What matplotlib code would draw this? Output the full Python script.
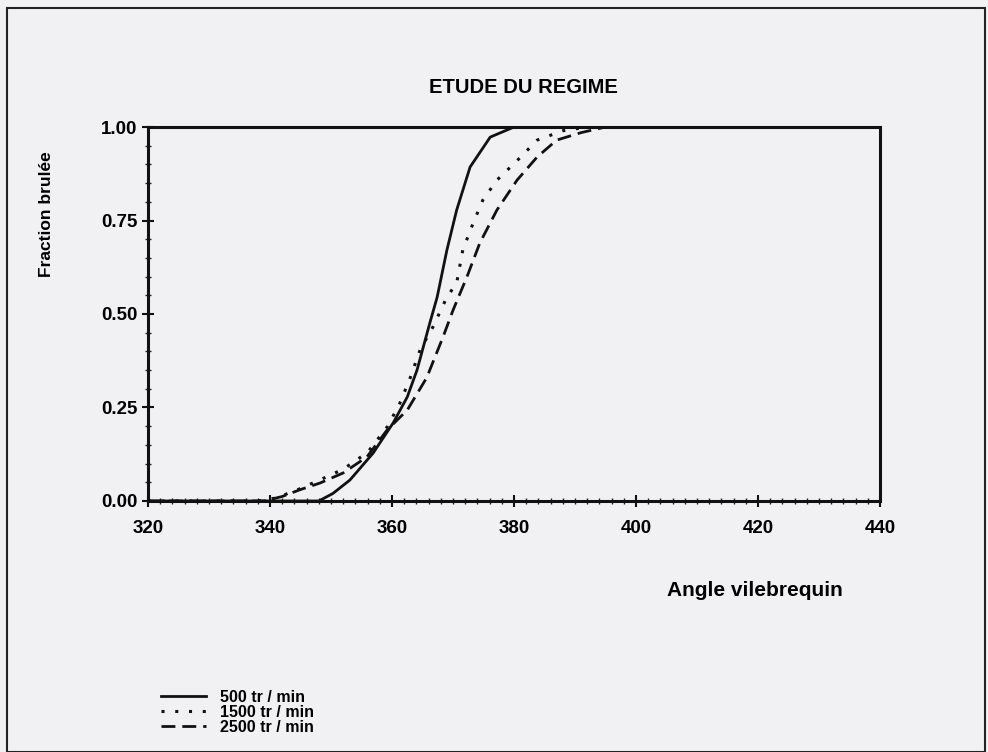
import numpy as np
import matplotlib.pyplot as plt
from matplotlib.patches import Rectangle
from matplotlib.ticker import MultipleLocator

# Fraction brulee vs angle vilebrequin
angle_500 = [320, 340, 348, 350.3, 353.1, 356.9, 360.2, 362.5, 364.1, 366.2, 367.4, 369, 370.6, 372.8, 376.1, 380, 440]
frac_500 = [0, 0, 0, 0.02, 0.056, 0.128, 0.209, 0.278, 0.35, 0.476, 0.545, 0.671, 0.778, 0.893, 0.973, 1.0, 1.0]

angle_1500 = [320, 338, 341, 344.5, 348, 352, 356, 359.3, 361.3, 363, 364.6, 366.7, 369, 370.6, 371.6, 373.3,
              374.9, 377.2, 380.5, 383.8, 388, 392, 440]
frac_1500 = [0, 0, 0.008, 0.03, 0.055, 0.085, 0.13, 0.2, 0.262, 0.33, 0.404, 0.465, 0.545, 0.583, 0.671, 0.743,
             0.805, 0.858, 0.91, 0.965, 0.99, 1.0, 1.0]

angle_2500 = [320, 339, 342, 344.9, 348.2, 352, 355.9, 359.2, 362.5, 365.7, 368.4, 370, 372.3, 374.4, 377.2,
              380.5, 383.8, 387, 391, 395, 440]
frac_2500 = [0, 0, 0.012, 0.03, 0.048, 0.075, 0.118, 0.19, 0.243, 0.33, 0.44, 0.51, 0.6, 0.69, 0.778,
             0.858, 0.92, 0.965, 0.985, 1.0, 1.0]

labels = ['500 tr / min', '1500 tr / min', '2500 tr / min']
x_ticks = [320, 340, 360, 380, 400, 420, 440]
y_ticks = [0.0, 0.25, 0.5, 0.75, 1.0]

bg = '#f1f1f3'
plt.rcParams['font.family'] = ['Liberation Sans', 'DejaVu Sans']
plt.rcParams['font.weight'] = 'bold'

fig = plt.figure(figsize=(9.88, 7.52), dpi=100, facecolor=bg)
ax = fig.add_axes([0.1498, 0.3338, 0.7409, 0.4973], facecolor=bg)

ax.plot(angle_500, frac_500, color='#111111', lw=2.0, linestyle='-', label=labels[0])
ax.plot(angle_1500, frac_1500, color='#111111', lw=2.2, linestyle=(0, (1, 3.5)), label=labels[1])
ax.plot(angle_2500, frac_2500, color='#111111', lw=2.0, linestyle=(0, (5, 2.5)), label=labels[2])

ax.set_xlim(320, 440)
ax.set_ylim(0, 1.0)
ax.set_xticks(x_ticks)
ax.set_yticks(y_ticks)
ax.set_yticklabels(['%.2f' % v for v in y_ticks])
ax.xaxis.set_minor_locator(MultipleLocator(2))
ax.yaxis.set_minor_locator(MultipleLocator(0.05))
ax.tick_params(axis='both', which='major', direction='inout', length=8, width=1.5, labelsize=13.5, color='#111111')
ax.tick_params(axis='both', which='minor', direction='inout', length=4, width=1, color='#222222')
ax.tick_params(axis='x', pad=10)
for s in ax.spines.values():
    s.set_linewidth(2.2)
    s.set_color('#111111')

fig.text(0.530, 0.883, 'ETUDE DU REGIME', ha='center', va='center', fontsize=14.5, weight='bold')
fig.text(0.047, 0.715, 'Fraction brulée', rotation=90, ha='center', va='center', fontsize=12.5, weight='bold')
fig.text(0.764, 0.215, 'Angle vilebrequin', ha='center', va='center', fontsize=15, weight='bold')

leg = fig.legend(loc='upper left', frameon=False, fontsize=11.5,
                 handlelength=2.8, handletextpad=0.9, labelspacing=0.0, borderpad=0)
leg.set_bbox_to_anchor((0.155, 0.093), transform=fig.transFigure)

fig.patches.append(Rectangle((0.007, 0.0), 0.99, 0.989, transform=fig.transFigure,
                             fill=False, edgecolor='#222222', lw=1.5))

fig.savefig('out.png', dpi=100, facecolor=bg)
